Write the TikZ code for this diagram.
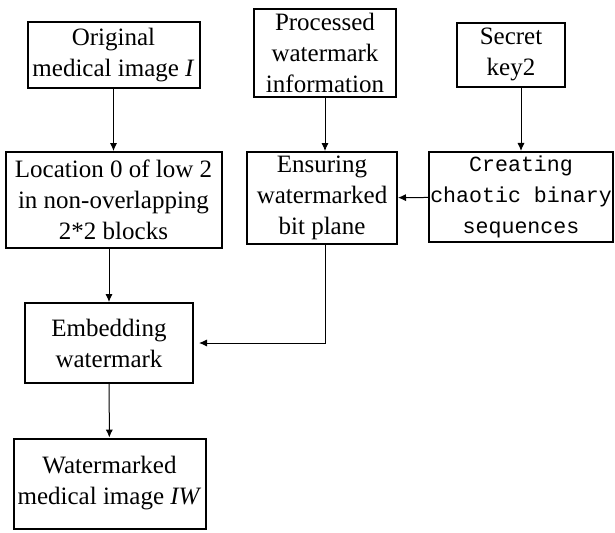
\documentclass[tikz,border=0pt]{standalone}
\usepackage{fontspec}
\setmainfont{Liberation Serif}
\setmonofont{Liberation Mono}
\usetikzlibrary{arrows.meta, calc}
\tikzset{
  flowNode/.style={
    draw=black,
    line width=1pt,
    align=center,
    inner sep=2pt,
    font=\fontsize{12.5}{15.5}\selectfont
  },
  monoNode/.style={flowNode, inner xsep=0.5pt, font=\fontsize{10.8}{15.5}\selectfont\ttfamily},
  flowArrow/.style={-{Latex[length=4pt,width=3.6pt]}, line width=0.5pt}
}

\begin{document}
\begin{tikzpicture}[x=0.5pt, y=-0.5pt]
  \useasboundingbox (0,0) rectangle (615,532);

  % left column
  \node[flowNode, minimum width=86pt, minimum height=33pt] (orig) at (113.5,55) {Original\\medical image \textit{I}};
  \node[flowNode, minimum width=108pt, minimum height=48pt] (loc) at (113.5,200) {Location 0 of low 2\\in non-overlapping\\2*2 blocks};
  \node[flowNode, minimum width=84pt, minimum height=40pt] (embed) at (109,343) {Embedding\\watermark};
  \node[flowNode, minimum width=96pt, minimum height=45pt] (wm) at (109.5,483.5) {Watermarked\\medical image \textit{IW}};

  % middle and right columns
  \node[flowNode, minimum width=71pt, minimum height=44pt] (proc) at (325,53) {Processed\\watermark\\information};
  \node[flowNode, minimum width=75pt, minimum height=45pt] (ens) at (322,198) {Ensuring\\watermarked\\bit plane};
  \node[flowNode, minimum width=54pt, minimum height=32pt] (secret) at (511,54.5) {Secret\\key2};
  \node[monoNode, minimum width=92pt, minimum height=44pt] (create) at (521,197) {Creating\\chaotic binary\\sequences};

  \draw[flowArrow] (orig) -- (loc);
  \draw[flowArrow] (loc.south -| embed.north) -- (embed.north);
  \draw[flowArrow] (embed) -- (wm);
  \draw[flowArrow] (proc.south) -- (proc.south |- ens.north);
  \draw[flowArrow] (create.north |- secret.south) -- (create.north);
  \draw[flowArrow] (create) -- (ens);
  \draw[flowArrow, shorten >=2.5pt] ($(ens.south)+(3,0)$) |- (embed.east);
\end{tikzpicture}
\end{document}
